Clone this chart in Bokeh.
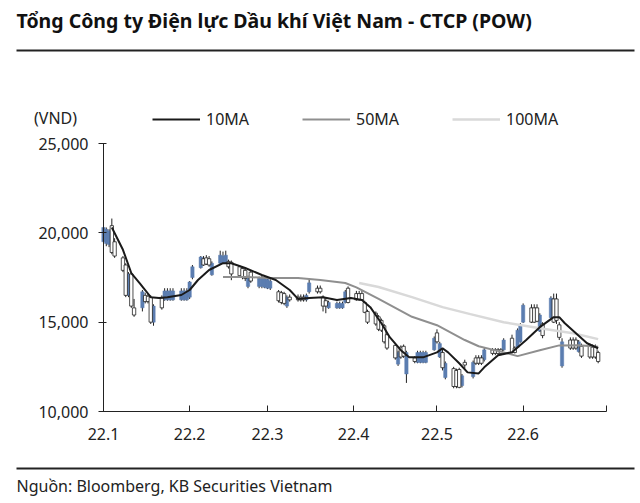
import pandas as pd
from bokeh.plotting import figure
from bokeh.models import (Range1d, FixedTicker, NumeralTickFormatter, Label, BoxAnnotation,
                          Legend, LegendItem, ColumnDataSource)
from bokeh.embed import file_html
from bokeh.resources import INLINE

# ---------------- data ----------------
START = "2022-01-03"
END = "2022-06-30"
x_tick_dates = ["2022-01-03", "2022-02-03", "2022-03-03", "2022-04-03",
                "2022-05-03", "2022-06-03", "2022-07-03"]
x_tick_labels = ["22.1", "22.2", "22.3", "22.4", "22.5", "22.6", ""]
y_ticks = [10000, 15000, 20000, 25000]

# daily OHLC (weekdays Jan 3 - Jun 30, 2022)
opens = [
    # Jan
    20300, 20200, 20100, 18900, 18700, 17900, 16500, 17700, 15900, 15400, 16700,
    16150, 16150, 15000, 15900, 15800, 16750, 16750, 16750, 16750, 16750,
    # Feb
    16750, 16750, 17250, 18100, 18650, 18200, 18250, 18200, 18300, 18750,
    18700, 18750, 18100, 17700, 17600, 17500, 17450, 17500, 17300, 17450,
    # Mar
    17500, 17450, 17400, 17300, 16200, 16100, 16050, 16400, 16250, 16250,
    16250, 16250, 16500, 17200, 16700, 16700, 15900, 15900, 16100, 16050,
    16050, 16050, 16700,
    # Apr
    16100, 16250, 16250, 16250, 15550, 15000, 14900, 14600, 14550, 13900,
    13550, 13000, 13300, 13050, 13100, 13300, 12800, 13300, 13300, 13300, 13300,
    # May
    14100, 13900, 13800, 12450, 12700, 11400, 11400, 11350, 12000, 12600,
    12750, 12700, 12700, 12700, 13450, 13250, 13250, 13250, 13250, 14000,
    13300, 13300,
    # Jun
    14550, 14850, 15950, 15000, 15000, 15050, 15400, 14250, 16350, 15000,
    15100, 14150, 13900, 13550, 13550, 13550, 13900, 13100, 13050, 13050,
    13050, 12800,
]
closes = [
    19500, 19400, 19350, 20400, 19500, 18600, 18200, 16500, 17700, 15800, 15800,
    16500, 16450, 16400, 15000, 16350, 16250, 16250, 16250, 16250, 16250,
    16250, 16250, 16400, 17500, 18050, 18550, 18600, 18550, 17650, 18300,
    18300, 18350, 18400, 18350, 18100, 18000, 17900, 17000, 17800, 17000,
    17000, 16950, 16900, 16900, 16700, 16650, 16600, 15900, 16400, 16400,
    16400, 16400, 16250, 16700, 16900, 16900, 16400, 16200, 15800, 15800,
    15800, 15800, 16100,
    16900, 16600, 16600, 16600, 16100, 15600, 15500, 15300, 15100, 14800,
    14300, 13700, 12650, 13600, 13650, 12100, 13000, 12750, 12750, 12750, 12750,
    13450, 14400, 13050, 13300, 11900, 12400, 12300, 12350, 11450, 12750,
    11950, 13000, 13000, 13000, 12900, 13450, 13450, 13450, 13450, 13450,
    14100, 13550,
    13600, 13900, 15000, 15800, 15800, 15800, 14500, 14900, 15250, 16300,
    16300, 14850, 12550, 14000, 14000, 14000, 13350, 13650, 13650, 13600,
    13600, 13300,
]
highs = [
    20400, 20300, 20200, 20800, 19700, 18700, 18300, 17800, 17800, 16300, 16800,
    16650, 16600, 16500, 16000, 16500, 16900, 16900, 16900, 16900, 16900,
    16900, 16900, 17300, 18200, 18700, 18700, 18750, 18700, 18400, 19000,
    18950, 19000, 18500, 18450, 18200, 18100, 18000, 17600, 17900, 17550,
    17600, 17550, 17500, 17400, 16800, 16750, 16700, 16500, 16550, 16550,
    16550, 16550, 16600, 17400, 17050, 17050, 16500, 16400, 16200, 16150,
    16150, 16150, 16800,
    17000, 16750, 16750, 16750, 16200, 15700, 15600, 15400, 15200, 14900,
    14400, 13800, 13400, 13700, 13750, 13400, 13100, 13400, 13400, 13400, 13400,
    14200, 14600, 13900, 13500, 12800, 12500, 12400, 12450, 12100, 12900,
    12850, 13150, 13150, 13150, 13550, 13550, 13550, 13550, 13550, 14100,
    14300, 13650,
    14650, 14950, 16050, 16000, 16000, 16000, 15500, 15000, 16450, 16600,
    16600, 15000, 14100, 14150, 14150, 14150, 14000, 13800, 13800, 13750,
    13750, 13400,
]
lows = [
    19300, 19250, 19200, 18800, 18600, 17800, 16400, 16400, 15800, 15300, 15600,
    16050, 16050, 14900, 14800, 15700, 16200, 16200, 16200, 16200, 16200,
    16200, 16200, 16300, 17400, 18000, 18150, 18200, 18100, 17600, 18250,
    18250, 18300, 18000, 17350, 17500, 17400, 17300, 16900, 17200, 16900,
    16900, 16900, 16850, 16800, 16100, 16000, 15950, 15800, 16150, 16150,
    16150, 16150, 16150, 16600, 16600, 16600, 15600, 15500, 15750, 15750,
    15750, 15750, 16050,
    16050, 16200, 16200, 16200, 15500, 14900, 14800, 14500, 14450, 13800,
    13450, 12900, 12550, 12950, 13000, 11600, 12700, 12700, 12700, 12700, 12700,
    13400, 13800, 13000, 12300, 11800, 11300, 11300, 11300, 11350, 12400,
    11850, 12600, 12600, 12600, 12800, 13150, 13150, 13150, 13150, 13400,
    13250, 13250,
    13550, 13850, 14950, 14950, 14950, 15000, 14450, 14100, 15200, 14950,
    14900, 14000, 12450, 13450, 13450, 13450, 13300, 13000, 12950, 12950,
    12950, 12700,
]

# moving averages
ma10_dates = ["2022-01-06", "2022-01-10", "2022-01-13", "2022-01-16", "2022-01-18",
              "2022-01-20", "2022-01-23", "2022-01-26", "2022-01-31", "2022-02-03",
              "2022-02-06", "2022-02-10", "2022-02-15", "2022-02-18", "2022-02-23",
              "2022-03-01", "2022-03-06", "2022-03-11", "2022-03-14", "2022-03-18",
              "2022-03-23", "2022-03-28", "2022-04-02", "2022-04-06", "2022-04-09",
              "2022-04-13", "2022-04-16", "2022-04-20", "2022-04-23", "2022-04-28",
              "2022-05-03", "2022-05-05", "2022-05-07", "2022-05-11", "2022-05-14",
              "2022-05-18", "2022-05-20", "2022-05-25", "2022-05-30", "2022-06-04",
              "2022-06-09", "2022-06-14", "2022-06-16", "2022-06-18", "2022-06-22",
              "2022-06-26", "2022-06-30"]
ma10_values = [20300, 19050, 17750, 17190, 16800,
               16400, 16350, 16400, 16520, 16800,
               17360, 17920, 18300, 18300, 18030,
               17640, 17360, 16800, 16300, 16350,
               16400, 16240, 16350, 16240, 15840,
               14940, 14160, 13430, 13030, 13030,
               13310, 13540, 13310, 12700, 12190,
               12130, 12470, 13150, 13320, 13990,
               14720, 15280, 15280, 14940, 14380,
               13820, 13540]
ma50_dates = ["2022-02-15", "2022-02-24", "2022-03-03", "2022-03-14", "2022-03-22",
              "2022-03-31", "2022-04-04", "2022-04-12", "2022-04-24", "2022-05-03",
              "2022-05-13", "2022-05-18", "2022-05-27", "2022-06-01", "2022-06-09",
              "2022-06-16", "2022-06-23", "2022-06-30"]
ma50_values = [17530, 17530, 17470, 17470, 17360,
               17190, 16950, 16300, 15300, 14830,
               14000, 13650, 13310, 13100, 13430,
               13700, 13710, 13620]
ma100_dates = ["2022-04-05", "2022-04-12", "2022-04-24", "2022-05-05", "2022-05-15",
               "2022-05-27", "2022-06-09", "2022-06-21", "2022-06-30"]
ma100_values = [17190, 16970, 16400, 15840, 15450,
                15000, 14660, 14380, 14050]

# ---------------- build ----------------
t0 = pd.Timestamp(START)
dates = pd.bdate_range(START, END)
assert len(dates) == len(opens) == len(closes) == len(highs) == len(lows)


def day_offset(ds):
    return [(pd.Timestamp(d) - t0).days for d in ds]


xs = day_offset(dates)
df = pd.DataFrame(dict(x=xs, open=opens, close=closes, high=highs, low=lows))
df["top"] = df[["open", "close"]].max(axis=1)
df["bottom"] = df[["open", "close"]].min(axis=1)
up = ColumnDataSource(df[df.close > df.open])
down = ColumnDataSource(df[df.close <= df.open])
allsrc = ColumnDataSource(df)

FONT = "Noto Sans"
BLUE = "#5b7db0"
INK = "#222222"
W, H = 640, 503
tick_x = day_offset(x_tick_dates)

# the frame fills the whole canvas; axes are pinned inside it
AX_L, AX_R, AX_T, AX_B = 103, 606, 143, 411   # pixel placement of the axis box
x0, x1 = tick_x[0], tick_x[-1]
y0, y1 = y_ticks[0], y_ticks[-1]
ppx = (AX_R - AX_L) / (x1 - x0)
ppy = (AX_B - AX_T) / (y1 - y0)
xr = Range1d(x0 - AX_L / ppx, x1 + (W - AX_R) / ppx)
yr = Range1d(y0 - (H - AX_B) / ppy, y1 + AX_T / ppy)

p = figure(width=W, height=H, output_backend="svg", toolbar_location=None,
           x_range=xr, y_range=yr,
           min_border_left=0, min_border_right=0, min_border_top=0, min_border_bottom=0)
p.outline_line_color = None
p.xgrid.grid_line_color = None
p.ygrid.grid_line_color = None
p.background_fill_color = "white"
p.border_fill_color = "white"

# candles
p.segment(x0="x", y0="low", x1="x", y1="high", source=allsrc, line_color=INK, line_width=1)
p.vbar(x="x", bottom="bottom", top="top", width=1.2, source=down,
       fill_color=BLUE, line_color=BLUE, line_width=0.5)
p.vbar(x="x", bottom="bottom", top="top", width=1.2, source=up,
       fill_color="white", line_color=INK, line_width=0.8)

# MA lines
r100 = p.line(day_offset(ma100_dates), ma100_values, line_color="#d9d9d9", line_width=2.5)
r50 = p.line(day_offset(ma50_dates), ma50_values, line_color="#8f8f8f", line_width=2)
r10 = p.line(day_offset(ma10_dates), ma10_values, line_color="#1a1a1a", line_width=2)

# axes
xa = p.xaxis[0]
xa.fixed_location = y0
xa.bounds = (x0, x1)
xa.ticker = FixedTicker(ticks=tick_x)
xa.major_label_overrides = {t: l for t, l in zip(tick_x, x_tick_labels)}
xa.major_tick_in = 6
xa.major_tick_out = 0
xa.minor_tick_line_color = None
xa.major_label_standoff = 16
xa.axis_line_color = INK
xa.major_tick_line_color = INK
xa.major_label_text_font = FONT
xa.major_label_text_font_size = "16px"
xa.major_label_text_color = INK

ya = p.yaxis[0]
ya.fixed_location = x0
ya.bounds = (y0, y1)
ya.ticker = FixedTicker(ticks=y_ticks)
ya.formatter = NumeralTickFormatter(format="0,0")
ya.major_tick_in = 3
ya.major_tick_out = 5
ya.minor_tick_line_color = None
ya.major_label_standoff = 10
ya.axis_line_color = INK
ya.major_tick_line_color = INK
ya.major_label_text_font = FONT
ya.major_label_text_font_size = "16px"
ya.major_label_text_color = INK

# legend
legend = Legend(items=[LegendItem(label="10MA", renderers=[r10]),
                       LegendItem(label="50MA", renderers=[r50]),
                       LegendItem(label="100MA", renderers=[r100])],
                orientation="horizontal", location=(152, H - 122 - 8),
                glyph_width=48, glyph_height=16, label_standoff=6, label_width=46,
                spacing=50, padding=0, margin=0, border_line_color=None,
                background_fill_alpha=0, label_text_font=FONT,
                label_text_font_size="16px", label_text_color=INK)
p.add_layout(legend)


def from_top(y):
    return H - y


p.add_layout(Label(x=16, y=from_top(20), x_units="screen", y_units="screen",
                   text="Tổng Công ty Điện lực Dầu khí Việt Nam - CTCP (POW)",
                   text_font=FONT, text_font_style="bold", text_font_size="19.5px",
                   text_baseline="middle", text_color="#111111"))
p.add_layout(BoxAnnotation(left=16, right=634, top=from_top(49), bottom=from_top(51),
                           left_units="screen", right_units="screen",
                           top_units="screen", bottom_units="screen",
                           fill_color=INK, fill_alpha=1, line_color=None))
p.add_layout(Label(x=55, y=from_top(117), x_units="screen", y_units="screen",
                   text="(VND)", text_font=FONT, text_font_size="16px",
                   text_align="center", text_baseline="middle", text_color=INK))
p.add_layout(BoxAnnotation(left=16, right=634, top=from_top(467), bottom=from_top(469),
                           left_units="screen", right_units="screen",
                           top_units="screen", bottom_units="screen",
                           fill_color=INK, fill_alpha=1, line_color=None))
p.add_layout(Label(x=16, y=from_top(485), x_units="screen", y_units="screen",
                   text="Nguồn: Bloomberg, KB Securities Vietnam",
                   text_font=FONT, text_font_size="16px",
                   text_baseline="middle", text_color=INK))

open("out.html", "w").write(file_html(p, INLINE))
